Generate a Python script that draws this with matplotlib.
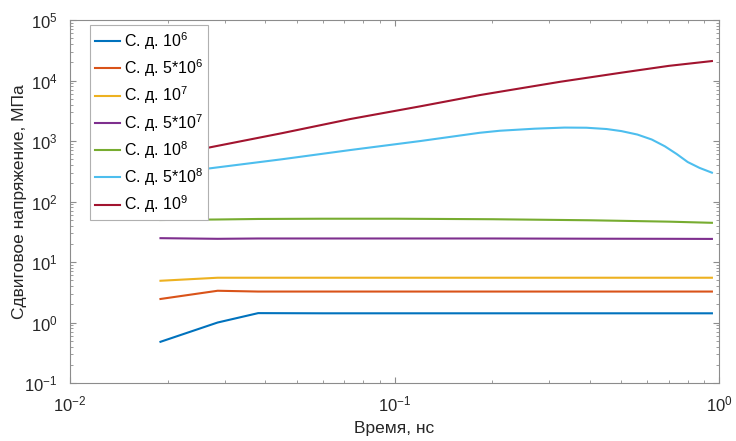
import matplotlib
matplotlib.use("Agg")
import matplotlib.pyplot as plt
from matplotlib.ticker import LogLocator, NullFormatter

plt.rcParams['font.family'] = ['Liberation Sans', 'DejaVu Sans']
plt.rcParams['mathtext.fontset'] = 'custom'
plt.rcParams['mathtext.rm'] = 'Liberation Sans'
plt.rcParams['mathtext.it'] = 'Liberation Sans'
plt.rcParams['mathtext.default'] = 'regular'
plt.rcParams['axes.unicode_minus'] = False

# time, ns
t_short = [0.019, 0.0285, 0.038, 0.06, 0.1, 0.2, 0.4, 0.7, 0.95]
s_1e6 = [0.48, 1.0, 1.43, 1.42, 1.42, 1.42, 1.42, 1.42, 1.42]
s_5e6 = [2.45, 3.35, 3.25, 3.25, 3.25, 3.25, 3.25, 3.25, 3.25]
s_1e7 = [4.9, 5.5, 5.5, 5.5, 5.5, 5.5, 5.5, 5.5, 5.5]
s_5e7 = [24.8, 24.2, 24.5, 24.5, 24.5, 24.5, 24.3, 24.2, 24.1]
s_1e8 = [49.5, 50.5, 51.5, 52.0, 52.0, 51.0, 49.0, 46.5, 44.5]

t_5e8 = [0.019, 0.027, 0.045, 0.073, 0.12, 0.183, 0.211, 0.27, 0.334,
         0.39, 0.45, 0.50, 0.56, 0.62, 0.68, 0.74, 0.80, 0.87, 0.95]
s_5e8 = [280, 354, 500, 710, 1000, 1370, 1480, 1600, 1670,
         1660, 1580, 1460, 1280, 1060, 820, 610, 450, 360, 300]

t_1e9 = [0.019, 0.027, 0.045, 0.073, 0.12, 0.183, 0.211, 0.324, 0.5, 0.7, 0.95]
s_1e9 = [540, 787, 1350, 2310, 3750, 5750, 6530, 9550, 13500, 17500, 21000]

labels = ['С. д. $10^{6}$', 'С. д. $5$*$10^{6}$', 'С. д. $10^{7}$',
          'С. д. $5$*$10^{7}$', 'С. д. $10^{8}$', 'С. д. $5$*$10^{8}$',
          'С. д. $10^{9}$']
colors = ['#0072BD', '#D95319', '#EDB120', '#7E2F8E', '#77AC30', '#4DBEEE', '#A2142F']

fig = plt.figure(figsize=(7.36, 4.41), dpi=100)
ax = fig.add_axes([0.0951, 0.1315, 0.882, 0.823])

series = [(t_short, s_1e6), (t_short, s_5e6), (t_short, s_1e7), (t_short, s_5e7),
          (t_short, s_1e8), (t_5e8, s_5e8), (t_1e9, s_1e9)]
for (t, s), lab, c in zip(series, labels, colors):
    ax.plot(t, s, color=c, lw=1.5, label=lab)

ax.set_xscale('log')
ax.set_yscale('log')
ax.set_xlim(1e-2, 1)
ax.set_ylim(1e-1, 1e5)
ax.yaxis.set_major_locator(LogLocator(base=10, numticks=10))
ax.yaxis.set_minor_locator(LogLocator(base=10, subs=range(2, 10), numticks=20))
ax.yaxis.set_minor_formatter(NullFormatter())

for sp in ax.spines.values():
    sp.set_color('#8c8c8c')
    sp.set_linewidth(0.8)
ax.tick_params(which='both', direction='in', top=True, right=True,
               colors='#8c8c8c', labelcolor='#262626', labelsize=12)
ax.tick_params(which='major', length=4)
ax.tick_params(which='minor', length=2.5)
ax.tick_params(axis='x', which='major', pad=8)
ax.tick_params(axis='y', which='major', pad=9)

ax.set_xlabel('Время, нс', fontsize=12.5, color='#262626')
ax.set_ylabel('Сдвиговое напряжение, МПа', fontsize=12.5, color='#262626')
ax.xaxis.set_label_coords(0.5, -0.104)
ax.yaxis.set_label_coords(-0.066, 0.5)

leg = ax.legend(loc='upper left', bbox_to_anchor=(0.031, 0.986), fontsize=11.5,
                frameon=True, fancybox=False, edgecolor='#b0b0b0', framealpha=1,
                handlelength=1.6, handletextpad=0.2, labelspacing=0.35,
                borderpad=0.3, borderaxespad=0)
leg.get_frame().set_linewidth(0.8)

fig.savefig('out.png', dpi=100)
